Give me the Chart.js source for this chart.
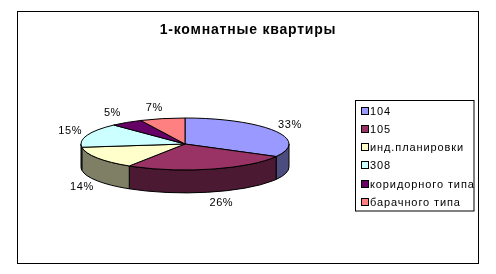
<!DOCTYPE html>
<html><head><meta charset="utf-8">
<script src="https://cdn.jsdelivr.net/npm/chart.js@4/dist/chart.umd.min.js"></script>
<style>html,body{margin:0;padding:0;background:#fff;}canvas{display:block;}</style>
</head><body>
<canvas id="c" width="496" height="274"></canvas>
<script>
const titleText = '1-комнатные квартиры';
const categories = ['104', '105', 'инд.планировки', '308', 'коридорного типа', 'барачного типа'];
const percentValues = [33, 26, 14, 15, 5, 7];
const sliceColors = ['#9999FF', '#993366', '#FFFFCC', '#CCFFFF', '#660066', '#FF8080'];

function darker(hex) {
  const n = parseInt(hex.slice(1), 16);
  const r = ((n >> 16) & 255) >> 1, g = ((n >> 8) & 255) >> 1, b = (n & 255) >> 1;
  return 'rgb(' + r + ',' + g + ',' + b + ')';
}

const TILT = 0.25, DEPTH = 0.22;

const pie3d = {
  id: 'pie3d',
  beforeDraw(chart) {
    const ctx = chart.ctx;
    ctx.save();
    ctx.fillStyle = '#fff';
    ctx.fillRect(0, 0, chart.width, chart.height);
    ctx.strokeStyle = '#000'; ctx.lineWidth = 1;
    ctx.strokeRect(17.5, 11.5, 461, 252);
    ctx.restore();
  },
  beforeDatasetsDraw(chart) {
    const ctx = chart.ctx;
    const meta = chart.getDatasetMeta(0);
    const ds = chart.data.datasets[0];
    ctx.save();
    ctx.lineWidth = 1; ctx.strokeStyle = '#000'; ctx.lineJoin = 'round';
    meta.data.forEach((arc, i) => {
      const p = arc.getProps(['x', 'y', 'startAngle', 'endAngle', 'outerRadius'], true);
      const rx = p.outerRadius, ry = rx * TILT, d = rx * DEPTH;
      const s = Math.max(p.startAngle, 0), e = Math.min(p.endAngle, Math.PI);
      if (s < e) {
        ctx.beginPath();
        ctx.ellipse(p.x, p.y, rx, ry, 0, s, e, false);
        ctx.lineTo(p.x + rx * Math.cos(e), p.y + d + ry * Math.sin(e));
        ctx.ellipse(p.x, p.y + d, rx, ry, 0, e, s, true);
        ctx.closePath();
        ctx.fillStyle = darker(ds.backgroundColor[i]);
        ctx.fill(); ctx.stroke();
      }
    });
    meta.data.forEach((arc, i) => {
      const p = arc.getProps(['x', 'y', 'startAngle', 'endAngle', 'outerRadius'], true);
      const rx = p.outerRadius, ry = rx * TILT;
      ctx.beginPath();
      ctx.moveTo(p.x, p.y);
      ctx.ellipse(p.x, p.y, rx, ry, 0, p.startAngle, p.endAngle, false);
      ctx.closePath();
      ctx.fillStyle = ds.backgroundColor[i];
      ctx.fill(); ctx.stroke();
    });
    const total = ds.data.reduce((a, b) => a + b, 0);
    ctx.fillStyle = '#000';
    ctx.font = '11px "Liberation Sans", Arial, sans-serif';
    ctx.letterSpacing = '0.6px';
    ctx.textAlign = 'center'; ctx.textBaseline = 'middle';
    meta.data.forEach((arc, i) => {
      const p = arc.getProps(['x', 'y', 'startAngle', 'endAngle', 'outerRadius'], true);
      const rx = p.outerRadius, ry = rx * TILT, d = rx * DEPTH;
      const m = (p.startAngle + p.endAngle) / 2;
      const c = Math.cos(m), sn = Math.sin(m);
      const x = p.x + (rx + 18) * c + (sn > 0 ? 6 : -4) * (Math.abs(c) < 0.7 ? 1 : 0);
      const y = p.y + (ry + 11) * sn + (sn > 0 ? d : 0);
      ctx.fillText(Math.round(ds.data[i] / total * 100) + '%', x, y);
    });
    ctx.restore();
    return false;
  },
  afterDraw(chart) {
    const ctx = chart.ctx;
    const ds = chart.data.datasets[0];
    ctx.save();
    ctx.fillStyle = '#000';
    ctx.font = 'bold 14px "Liberation Sans", Arial, sans-serif';
    ctx.letterSpacing = '0.8px';
    ctx.textAlign = 'center'; ctx.textBaseline = 'alphabetic';
    ctx.fillText(titleText, 248, 34);
    ctx.lineWidth = 1; ctx.strokeStyle = '#000';
    ctx.strokeRect(355.5, 100.5, 118.5, 110.5);
    ctx.font = '11px "Liberation Sans", Arial, sans-serif';
    ctx.letterSpacing = '0.9px';
    ctx.textAlign = 'left'; ctx.textBaseline = 'middle';
    chart.data.labels.forEach((lab, i) => {
      const y = Math.round(110.5 + i * 18.3);
      ctx.fillStyle = ds.backgroundColor[i];
      ctx.fillRect(361.5, y - 3.5, 7, 7);
      ctx.strokeRect(361.5, y - 3.5, 7, 7);
      ctx.fillStyle = '#000';
      ctx.fillText(lab, 370, y + 0.5);
    });
    ctx.restore();
  }
};

new Chart(document.getElementById('c'), {
  type: 'pie',
  data: {
    labels: categories,
    datasets: [{ data: percentValues, backgroundColor: sliceColors, borderWidth: 0 }]
  },
  options: {
    responsive: false,
    animation: false,
    layout: { padding: { left: 81, right: 207, top: 40, bottom: 26 } },
    plugins: { legend: { display: false }, title: { display: false }, tooltip: { enabled: false } }
  },
  plugins: [pie3d]
});
</script>
</body></html>
